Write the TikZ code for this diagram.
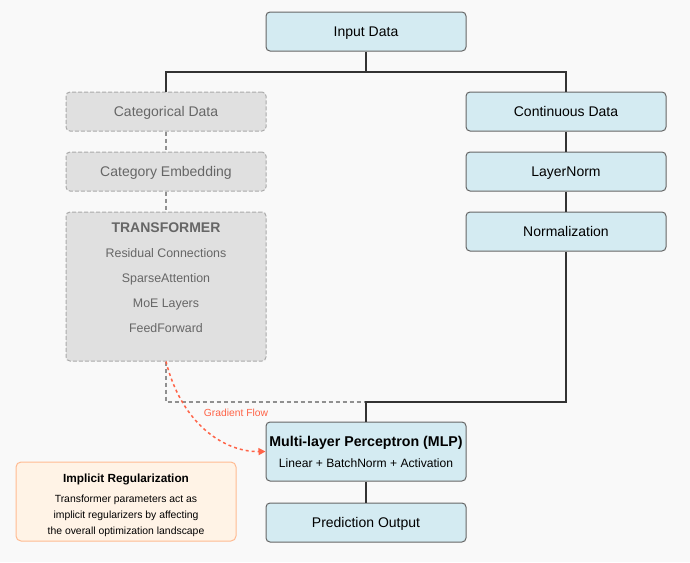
\documentclass[tikz,border=0pt]{standalone}
\usepackage{fontspec}
\setmainfont{Liberation Sans}
\usetikzlibrary{positioning,arrows.meta}
\definecolor{pagebg}{HTML}{F9F9F9}
\definecolor{boxblue}{HTML}{D4EBF2}
\definecolor{boxedge}{HTML}{666666}
\definecolor{ghostfill}{HTML}{E0E0E0}
\definecolor{ghostedge}{HTML}{AAAAAA}
\definecolor{ghosttext}{HTML}{666666}
\definecolor{linkdark}{HTML}{333333}
\definecolor{notefill}{HTML}{FFF3E6}
\definecolor{noteedge}{HTML}{FFBB92}
\definecolor{gradred}{HTML}{FF6347}
\tikzset{
  databox/.style={draw=boxedge, fill=boxblue, rounded corners=4pt, line width=1pt,
    minimum width=200pt, minimum height=39pt, inner sep=0pt,
    text height=10pt, text depth=0pt, font=\fontsize{14}{16}\selectfont},
  ghostbox/.style={databox, draw=ghostedge, fill=ghostfill, text=ghosttext,
    dash pattern=on 4pt off 2pt},
  ghostitem/.style={text=ghosttext, inner sep=0pt, text height=8.8pt, text depth=0pt,
    font=\fontsize{12.4}{14}\selectfont},
  link/.style={draw=linkdark, line width=1.5pt},
  ghostlink/.style={draw=ghostedge!85!black, line width=1.5pt, dash pattern=on 4pt off 3pt},
  gradflow/.style={draw=gradred, line width=1.5pt, dash pattern=on 3pt off 3pt,
    -{Triangle[length=7pt,width=7pt]}},
  notebox/.style={draw=noteedge, fill=notefill, rounded corners=5pt, line width=1pt,
    minimum width=220pt, minimum height=79pt, inner sep=0pt}
}
\begin{document}
\begin{tikzpicture}[x=1pt,y=-1pt,node distance=20pt]
\fill[pagebg] (0,0) rectangle (690,562);
\useasboundingbox (0,0) rectangle (690,562);
% input and the two branches
\node[databox] (input) at (366,31.5) {Input Data};
\node[ghostbox] (cat) at (166,111.5) {Categorical Data};
\node[ghostbox] (emb) [below=of cat] {Category Embedding};
\node[ghostbox, minimum height=149pt] (trans) [below=of emb] {};
\node[databox] (cont) at (566,111.5) {Continuous Data};
\node[databox] (lnorm) [below=of cont] {LayerNorm};
\node[databox] (norm) [below=of lnorm] {Normalization};
% transformer contents
\node[text=ghosttext, inner sep=0pt, text height=10pt, text depth=0pt,
  font=\bfseries\fontsize{14}{16}\selectfont] (transtitle) at (166,227) {TRANSFORMER};
\node[ghostitem] (resid) at (166,253) {Residual Connections};
\node[ghostitem] (sparse) at (166,278) {SparseAttention};
\node[ghostitem] (moe) at (166,303) {MoE Layers};
\node[ghostitem] (ffwd) at (166,328) {FeedForward};
% model and output
\node[databox, minimum height=59pt] (mlp) at (366,451.5) {};
\node[inner sep=0pt, text height=10.2pt, text depth=0pt,
  font=\bfseries\fontsize{14.2}{16}\selectfont] (mlptitle) at (366,441) {Multi-layer Perceptron (MLP)};
\node[inner sep=0pt, text height=8.7pt, text depth=0pt,
  font=\fontsize{12.1}{14}\selectfont] (mlpsub) at (366,463) {Linear + BatchNorm + Activation};
\node[databox] (pred) [below=21pt of mlp] {Prediction Output};
% side note
\node[notebox] (note) at (126,501.5) {};
\node[inner sep=0pt, text height=8.5pt, text depth=0pt,
  font=\bfseries\fontsize{11.8}{13}\selectfont] (notetitle) at (126,478) {Implicit Regularization};
\node[align=center, inner sep=0pt, font=\fontsize{10.4}{16}\selectfont] (notebody) at (126,516)
  {Transformer parameters act as\\ implicit regularizers by affecting\\ the overall optimization landscape};
% connectors
\coordinate (split) at (366,72);
\coordinate (join) at (366,402);
\draw[link] (input.south) -- (split);
\draw[link] (split) -| (cat.north);
\draw[link] (split) -| (cont.north);
\draw[ghostlink] (cat) -- (emb);
\draw[ghostlink] (emb) -- (trans);
\draw[link] (cont) -- (lnorm);
\draw[link] (lnorm) -- (norm);
\draw[ghostlink] (trans.south) |- (join);
\draw[link] (norm.south) |- (join) -- (mlp.north);
\draw[link] (mlp) -- (pred);
\draw[gradflow] (trans.south) .. controls (182,425) and (225,452) .. (mlp.west);
\node[text=gradred, inner sep=0pt, text height=7.4pt, text depth=0pt,
  font=\fontsize{10.3}{12}\selectfont] (gradlabel) at (236,413) {Gradient Flow};
\end{tikzpicture}
\end{document}
